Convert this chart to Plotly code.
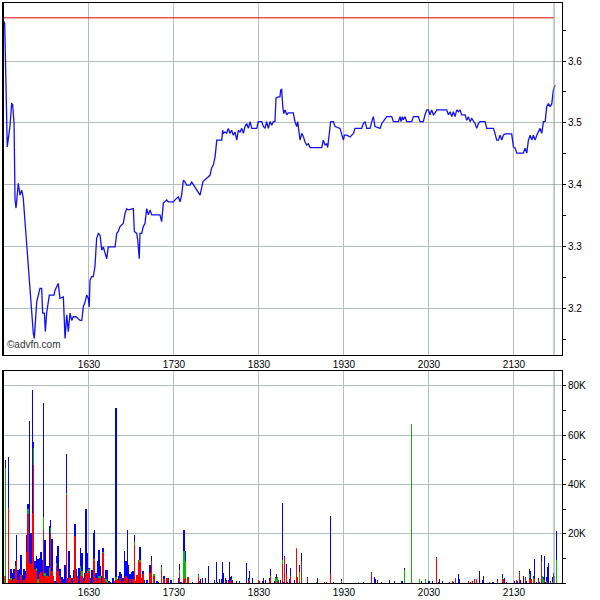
import pandas as pd
import plotly.graph_objects as go
from plotly.subplots import make_subplots

SESSION_START = "2024-01-02 15:30"
prev_close = 3.67

# price line: minutes after 15:30, price
price_min = [0, 0.5, 2.3, 4.2, 5.4, 6.1, 7.1, 7.8, 8.5, 10.1, 11.3, 12.5, 13.6, 16.0, 18.4, 20.7, 21.4, 23.1, 25.4, 26.6, 27.3, 28.5, 29.2, 30.1, 32, 35.3, 36, 38.3, 39.5, 41.9, 43.1, 44.3, 45.4, 46.6, 47.8, 48.9, 50.8, 52.5, 53.7, 54.9, 56, 57.2, 58.4, 59.5, 60.2, 60.7, 61.9, 63, 64.2, 65.4, 66.6, 67.8, 69, 70.1, 71.3, 72.5, 73.6, 78.4, 79.6, 80.7, 81.9, 84.2, 85.4, 86.6, 87.8, 91.3, 92, 93.7, 94.4, 95.5, 96, 97.2, 98.3, 99.5, 100.7, 101.9, 103.1, 104.3, 110.1, 111.3, 112.5, 114.9, 116, 119.5, 121.9, 123.1, 124.3, 125.4, 126.6, 127.8, 129, 131.3, 132.5, 134.8, 137.2, 138.4, 140.5, 143.1, 145.4, 146.6, 147.8, 149, 149.7, 150.2, 153.7, 154.4, 154.8, 156, 157.2, 158.4, 159.5, 160.7, 161.9, 163.1, 164.3, 165.4, 166.6, 167.8, 169, 170.1, 171.3, 172.5, 173.7, 174.9, 178.4, 179.5, 181.9, 183.1, 184.3, 185.4, 186.6, 187.8, 189, 190.1, 191.3, 192, 193.6, 194.8, 195.3, 196, 196.8, 197.5, 198.4, 199.6, 200.7, 204.2, 205.4, 206.6, 207.3, 208.3, 209, 210.2, 211.3, 212.5, 213.7, 214.9, 216, 224.3, 225.4, 226.6, 227.8, 228.5, 229.7, 230.6, 232.5, 233.7, 237.2, 238.4, 239.6, 240.3, 242, 244.3, 245.5, 246.7, 247.8, 252.5, 253.7, 254.9, 256.1, 258.4, 259.6, 260.7, 261.9, 265.5, 266.7, 267.8, 270.2, 273.7, 274.9, 278.4, 279.6, 280.3, 281.2, 281.9, 283.1, 284.3, 287.8, 289, 292.5, 293.7, 296, 297.2, 298.4, 299.6, 300.7, 301.9, 303.1, 304.3, 305.5, 312.5, 313.7, 314.9, 316.1, 317.2, 318.4, 319.6, 320.8, 321.9, 323.1, 325.5, 326.7, 327.8, 329, 330.2, 331.4, 332.5, 333.7, 334.9, 336.1, 339.6, 340.8, 345.5, 346.6, 347.8, 349, 350.2, 351.4, 352.5, 353.7, 358.4, 359.6, 360.8, 362, 366.6, 367.8, 369, 370.2, 371.4, 372.6, 373.7, 374.9, 376.1, 378.4, 379.6, 380.8, 382, 383.1, 384.3, 385.5, 386.7, 387.8, 389]
price_val = [3.664, 3.661, 3.461, 3.494, 3.531, 3.530, 3.499, 3.375, 3.362, 3.402, 3.383, 3.391, 3.378, 3.299, 3.218, 3.159, 3.151, 3.210, 3.232, 3.232, 3.192, 3.192, 3.162, 3.192, 3.221, 3.221, 3.229, 3.240, 3.216, 3.218, 3.151, 3.189, 3.162, 3.192, 3.180, 3.186, 3.186, 3.183, 3.180, 3.180, 3.202, 3.210, 3.221, 3.216, 3.202, 3.245, 3.251, 3.251, 3.267, 3.313, 3.321, 3.318, 3.294, 3.299, 3.291, 3.280, 3.299, 3.299, 3.321, 3.324, 3.332, 3.337, 3.353, 3.361, 3.359, 3.361, 3.324, 3.321, 3.310, 3.280, 3.321, 3.321, 3.332, 3.337, 3.361, 3.351, 3.359, 3.351, 3.351, 3.340, 3.370, 3.375, 3.372, 3.372, 3.378, 3.380, 3.372, 3.383, 3.407, 3.404, 3.399, 3.399, 3.404, 3.396, 3.386, 3.383, 3.405, 3.410, 3.415, 3.427, 3.432, 3.445, 3.469, 3.472, 3.472, 3.488, 3.483, 3.485, 3.483, 3.491, 3.483, 3.488, 3.480, 3.485, 3.472, 3.488, 3.485, 3.491, 3.483, 3.494, 3.499, 3.491, 3.502, 3.491, 3.491, 3.502, 3.502, 3.494, 3.491, 3.502, 3.491, 3.502, 3.496, 3.502, 3.502, 3.540, 3.542, 3.542, 3.553, 3.554, 3.526, 3.515, 3.521, 3.513, 3.516, 3.516, 3.502, 3.494, 3.502, 3.488, 3.472, 3.483, 3.478, 3.469, 3.464, 3.466, 3.460, 3.460, 3.472, 3.464, 3.466, 3.460, 3.488, 3.502, 3.502, 3.494, 3.491, 3.480, 3.472, 3.480, 3.480, 3.477, 3.480, 3.483, 3.491, 3.491, 3.499, 3.502, 3.491, 3.491, 3.502, 3.510, 3.494, 3.491, 3.499, 3.502, 3.510, 3.510, 3.502, 3.502, 3.510, 3.502, 3.510, 3.505, 3.510, 3.502, 3.502, 3.510, 3.510, 3.502, 3.502, 3.513, 3.521, 3.521, 3.513, 3.521, 3.513, 3.516, 3.521, 3.521, 3.513, 3.518, 3.510, 3.518, 3.510, 3.521, 3.518, 3.521, 3.513, 3.513, 3.504, 3.510, 3.502, 3.507, 3.502, 3.499, 3.491, 3.499, 3.502, 3.502, 3.491, 3.491, 3.483, 3.472, 3.472, 3.480, 3.472, 3.480, 3.482, 3.482, 3.461, 3.459, 3.451, 3.451, 3.459, 3.451, 3.472, 3.480, 3.472, 3.480, 3.472, 3.480, 3.491, 3.483, 3.502, 3.502, 3.526, 3.531, 3.526, 3.531, 3.553, 3.561]

# volume bars (thousands): minute, red part, green part, blue part
vol_min = [0, 1, 3, 4, 5, 6, 7, 8, 9, 10, 11, 12, 13, 14, 15, 16, 17, 18, 19, 20, 21, 22, 23, 24, 25, 26, 27, 28, 29, 30, 31, 32, 33, 34, 35, 36, 37, 38, 39, 40, 41, 42, 43, 44, 45, 46, 47, 48, 49, 50, 51, 52, 53, 54, 55, 56, 57, 58, 59, 60, 61, 62, 63, 64,
           65, 66, 67, 68, 69, 70, 71, 72, 73, 74, 75, 77, 78, 79, 80, 81, 82, 83, 84, 85, 86, 87, 88, 89, 90, 91, 92, 93, 94, 95, 96, 97, 98, 99, 101, 103, 104, 106, 108, 109, 111, 113, 115, 116, 118, 123, 124, 125, 127, 128, 130,
           133.0, 137.2, 137.9, 138.6, 140.0, 142.1, 144.2, 148.5, 149.9, 150.6, 152.0, 153.4, 154.1, 154.8, 156.2, 156.9, 158.4, 159.1, 159.8, 160.5, 161.2, 164.0, 166.1, 171.1, 172.5, 173.2, 175.3, 179.5, 180.2, 182.4, 183.1, 184.5, 187.3, 188.0, 190.8, 191.5, 192.2, 192.9, 193.7, 195.1, 196.5, 197.2, 197.9, 199.3, 200.0, 201.4, 202.1, 205.0, 206.4, 207.1, 208.5, 209.9, 214.1, 220.5, 221.2, 226.1, 227.5, 230.4, 232.5, 238.1, 250.1, 253.7, 259.3, 261.4, 262.1, 263.5,
           266.4, 272.0, 275.6, 280.5, 281.2, 282.6, 287.5, 293.2, 294.6, 297.4, 299.5, 300.3, 302.4, 305.2, 306.6, 307.3, 309.4, 314.4, 316.5, 317.2, 318.6, 320.7, 321.4, 327.8, 329.2, 330.6, 332.0, 333.4, 335.6, 337.7, 338.4, 342.6, 344.7, 345.4, 348.3, 351.8, 352.5, 353.2, 354.6, 360.3, 361.7, 362.4, 363.8, 364.5, 366.6, 368.0, 368.7, 370.8, 371.6, 372.3, 373.7, 374.4, 375.8, 377.2, 377.9, 379.3, 380.0, 380.7, 381.4, 382.1, 382.8, 383.5, 384.3, 385.7, 387.1, 387.8, 388.5, 389.9]
vol_red = [0, 3, 30.5, 1.6, 1.4, 1, 1.7, 6.1, 9.5, 1.4, 0, 3.4, 0, 1.4, 2, 12.5, 27.8, 8, 7.9, 28.5, 48, 5.7, 5, 0, 3.5, 4.5, 3, 21.7, 3, 2, 2.8, 3, 20.3, 4.7, 3, 0, 7, 4.9, 3, 1.7, 0, 0, 0, 35.5, 0, 2, 2, 0, 2, 19, 2, 2.7, 0, 4.7, 3, 0, 1, 4, 4, 5, 0, 0, 10.2, 8.8,
           2, 1, 2, 1.8, 0, 12.2, 2, 0.6, 0, 0, 0, 0, 0.7, 1.1, 1.6, 1, 2, 0, 1, 1.9, 2.8, 2, 0, 1.8, 0, 1.7, 15.6, 0.7, 3.4, 9.2, 8.5, 2, 3.5, 0, 0, 4.2, 9.1, 3, 0, 0, 5.4, 1.5, 2, 0, 0, 0, 4.1, 0, 1.6, 2, 2.3,
           0, 2.5, 1, 0, 0, 0.6, 0, 0, 0, 0, 0, 0, 0, 0, 1, 0, 0, 0.7, 1, 1.5, 0, 0, 0, 0, 1, 1, 0, 1.4, 0.9, 0, 0, 0, 1, 2.4, 0, 0.5, 0, 1, 1.4, 0, 7.8, 0, 10.4, 3.7, 0, 0, 3, 0, 13.9, 2.4, 0.5, 8.5, 2, 0, 0, 0.3, 0.6, 3.5, 0, 0.5, 0, 0, 4.3, 0, 0, 1,
           0, 0, 0, 0, 0, 0, 0, 0, 0, 0, 0, 0, 0, 10.2, 0, 0, 0, 0.6, 1, 0, 2.2, 0, 0, 1, 0.6, 1, 1.8, 1.8, 0, 0, 0, 0.6, 0, 0, 1, 1.5, 1.8, 0, 0, 0, 1.4, 0, 4.5, 0, 0, 2.4, 0, 2, 1.7, 1.8, 0, 1.6, 0, 1, 0, 9.1, 0, 0, 1.3, 0, 0, 0, 0, 0, 0, 2, 0.5, 0]
vol_green = [3, 43.7, 0, 0, 0.7, 0, 0, 0.7, 0, 0, 0, 0, 0, 0, 0, 0, 2.4, 0, 0, 0, 6.7, 0, 1, 1.8, 0, 0, 0, 4.9, 1, 1, 0, 3, 2, 0, 0, 0, 1, 0, 0, 0, 0, 0, 0, 1, 0, 0, 0, 0, 0, 0, 0, 0, 0, 2, 2, 0, 0, 0, 1, 0.5, 0, 0, 0, 1,
             0, 0, 1, 1, 0, 0.5, 0, 1, 1, 0, 0, 0, 0, 1.4, 0, 0, 0, 0, 0, 0, 0, 0, 0, 0, 0, 0, 1, 0, 0, 0, 1, 0, 0, 0, 0, 0, 0, 0.5, 0, 0, 1, 0, 0, 0, 0, 0, 1, 0, 11.2, 7, 0,
             0, 0.6, 0, 0, 0, 0, 0, 0, 0.5, 0, 0, 0, 0, 0, 0, 0, 0, 0, 0, 0, 0, 0, 0, 0, 0, 0.7, 0, 0, 0, 0, 0, 0, 0, 0.5, 0, 1.6, 2, 1.4, 0, 0, 1.4, 0, 0, 0, 0, 0, 0, 0, 0.5, 0, 4, 0, 0, 0.6, 0, 0, 0, 0, 0, 0.3, 0.6, 0, 0, 0, 0, 0,
             0, 0, 0, 0, 0, 5.4, 64.4, 1.8, 0, 1.8, 0, 0, 0, 0, 0, 0, 0, 0, 0, 0, 0, 0, 0, 0, 0, 0, 0, 0, 0, 0, 0, 0, 0, 0, 0, 0.5, 0, 0, 0, 0, 0, 0, 0, 0, 0, 0, 0, 1.5, 0, 0, 2, 0, 0, 0, 0, 0, 3, 1.5, 0, 0, 1, 0, 0, 0, 0.6, 0, 2.5, 9.5]
vol_blue = [0, 3, 20.6, 0, 3.6, 3, 4, 2, 10.1, 4, 5.7, 7.8, 3.4, 4.4, 3, 6.9, 1.8, 57.7, 12.4, 49.8, 2.4, 3.4, 4.8, 8, 6.7, 8, 6.2, 46.6, 13.6, 4, 4, 17, 3.4, 13.2, 0, 0.7, 2.8, 10, 2.7, 4, 2.3, 1.6, 7.2, 15.9, 2, 10.9, 1.4, 2, 3.4, 5, 3.7, 0, 6.1, 7.5, 7.2, 2, 3.1, 26, 7.2, 0.6, 2, 5.4, 10.1, 11.9,
            2, 7.8, 10.3, 4, 2.7, 1.4, 0, 3.5, 4.1, 0.7, 0.3, 2, 0, 68.6, 0, 2, 2.3, 3.5, 1, 11, 6, 19.7, 7.2, 2, 4.3, 3, 3, 0, 0, 0, 5, 0, 1.2, 1.1, 1.1, 3, 1.7, 0.3, 0.7, 0.3, 0.8, 1.5, 0, 2, 1.4, 1.9, 2.8, 0.3, 8.6, 3.9, 0,
            0.6, 0.6, 0, 1.7, 2.1, 1.5, 6.7, 1.4, 8.2, 0.6, 1.8, 1.7, 8.7, 3.9, 1.2, 1.3, 1.4, 8, 1.4, 1.5, 1.4, 1, 1, 8.3, 1, 3, 2.2, 0, 0, 1, 2.2, 1.4, 1, 2.6, 1, 0.5, 1.5, 0, 0, 1.4, 23.2, 0.3, 0.4, 4.2, 0.6, 1.8, 3.2, 1.4, 0, 0, 3, 3.5, 0.6, 0, 2.2, 0.3, 0, 23.5, 0.6, 1, 0, 0.6, 0, 2.6, 1.8, 0.4,
            0.6, 1.4, 1, 1, 1, 0.5, 0, 0, 1, 0, 1, 1, 1, 0.3, 0.6, 1.8, 1, 0, 0, 0.5, 0, 3.5, 1.8, 0, 0, 0, 0, 0, 4.8, 1.4, 3, 0, 0.6, 0.5, 0.8, 1.5, 0, 2.2, 0.6, 1, 0, 1, 0.3, 1.4, 3, 0, 1, 2, 3, 0, 1, 8, 0.6, 1.2, 0.5, 2.1, 0, 0.9, 9.5, 0.5, 1.6, 6.4, 8, 1, 2, 2, 0, 11.4]

vol_ticks = [20000, 40000, 60000, 80000]
vol_tick_text = ["20K", "40K", "60K", "80K"]
price_ticks = [3.2, 3.3, 3.4, 3.5, 3.6]

base = pd.Timestamp(SESSION_START)
def to_time(mins):
    return base + pd.to_timedelta(pd.Series(mins, dtype=float), unit="min")

pt = to_time(price_min)
vt = to_time(vol_min)
x_start = base + pd.to_timedelta(-0.7, unit="min")
x_end = base + pd.to_timedelta(393.9, unit="min")
now_t = base + pd.to_timedelta(388.3, unit="min")

fig = make_subplots(rows=2, cols=1, shared_xaxes=False, vertical_spacing=0)

GRID = "#b4bebe"
FONT = dict(family="Liberation Sans, Arial, sans-serif", size=10, color="#000000")

fig.add_trace(go.Scatter(x=[x_start, now_t], y=[prev_close, prev_close], mode="lines",
                         line=dict(color="#e00000", width=1), hoverinfo="skip", showlegend=False), row=1, col=1)
fig.add_trace(go.Scatter(x=pt, y=price_val, mode="lines",
                         line=dict(color="#1010ff", width=1.3), showlegend=False), row=1, col=1)

for vals, col in [(vol_red, "#ff0000"), (vol_green, "#00c000"), (vol_blue, "#0000ff")]:
    fig.add_trace(go.Bar(x=vt, y=[v * 1000 for v in vals], width=62000,
                         marker=dict(color=col, line=dict(width=0)), showlegend=False), row=2, col=1)

fig.update_layout(
    width=600, height=600, barmode="stack", bargap=0,
    margin=dict(l=3, r=38, t=3, b=17, autoexpand=False),
    paper_bgcolor="white", plot_bgcolor="white",
    font=FONT, showlegend=False, hovermode=False,
)

xcommon = dict(type="date", range=[x_start, x_end], tickformat="%H%M",
               tick0="2024-01-02 16:30", dtick=3600000,
               showgrid=True, gridcolor=GRID, gridwidth=1,
               showline=True, linecolor="black", linewidth=1, mirror=True,
               ticks="", tickfont=FONT, zeroline=False)
fig.update_xaxes(**xcommon, domain=[0, 1], row=1, col=1)
fig.update_xaxes(**xcommon, row=2, col=1)

fig.update_yaxes(domain=[0.393, 1.0], range=[3.124, 3.694], side="right",
                 tickvals=price_ticks, ticktext=[f"{v:.1f}" for v in price_ticks],
                 showgrid=True, gridcolor=GRID, showline=True, linecolor="black", linewidth=1, mirror=True,
                 ticks="outside", ticklen=3, tickcolor="black",
                 minor=dict(dtick=0.05, tick0=3.15, ticks="outside", ticklen=3, tickcolor="black", showgrid=False),
                 zeroline=False, tickfont=FONT, row=1, col=1)
fig.update_yaxes(domain=[0.0, 0.3655], range=[0, 86000], side="right",
                 tickvals=vol_ticks, ticktext=vol_tick_text,
                 showgrid=True, gridcolor=GRID, showline=True, linecolor="black", linewidth=1, mirror=True,
                 ticks="outside", ticklen=3, tickcolor="black",
                 minor=dict(dtick=10000, tick0=0, ticks="outside", ticklen=3, tickcolor="black", showgrid=False),
                 zeroline=False, tickfont=FONT, row=2, col=1)

# current-time marker lines
for yref in ["y", "y2"]:
    fig.add_shape(type="line", xref="x" if yref == "y" else "x2", yref=f"{yref} domain",
                  x0=now_t, x1=now_t, y0=0, y1=1, line=dict(color="#8a9898", width=1))

# thicker left frame edges
for y0, y1 in [(0.393, 1.0), (0.0, 0.3655)]:
    fig.add_shape(type="line", xref="paper", yref="paper", x0=0, x1=0, y0=y0, y1=y1,
                  line=dict(color="black", width=2))

fig.add_annotation(text="©advfn.com", xref="paper", yref="paper", x=0.003, y=0.398,
                   xanchor="left", yanchor="bottom", showarrow=False,
                   font=dict(family="Liberation Sans, Arial, sans-serif", size=10, color="#333333"))

fig.write_html("out.html", config={"displayModeBar": False, "staticPlot": True},
               post_script="document.body.style.margin='0px';document.body.style.padding='0px';document.body.style.overflow='hidden';")
